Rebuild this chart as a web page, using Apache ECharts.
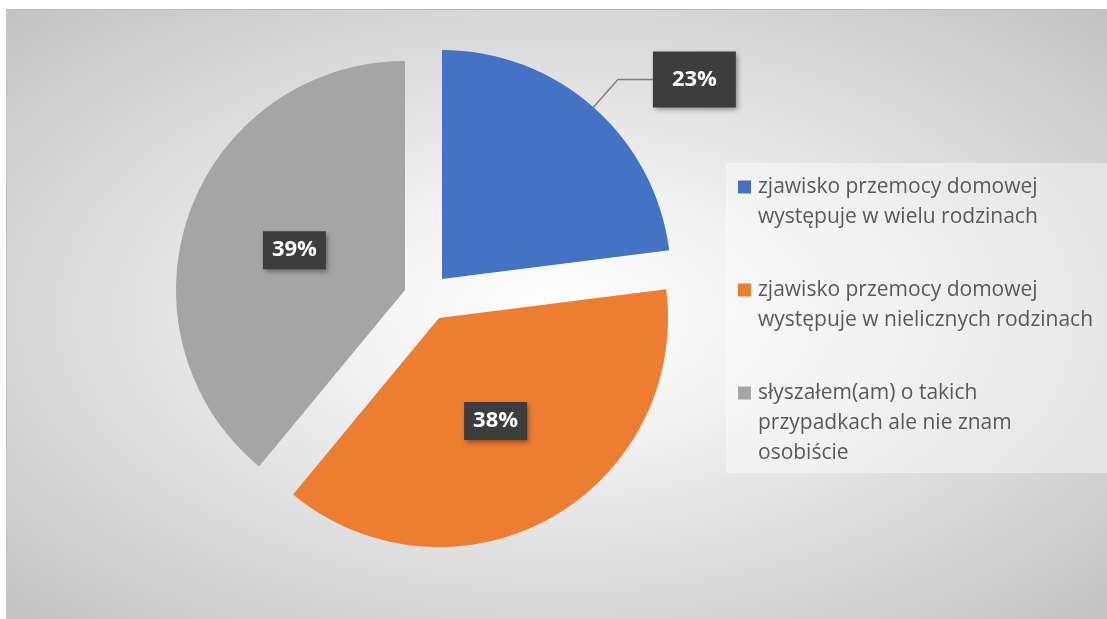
<!DOCTYPE html>
<html>
<head>
<meta charset="utf-8">
<script src="https://cdn.jsdelivr.net/npm/echarts@6/dist/echarts.min.js"></script>
<style>
  html, body { margin: 0; padding: 0; background: #ffffff; width: 1107px; height: 619px; overflow: hidden; }
  #frame { position: absolute; left: 6px; top: 9px; width: 1101px; height: 610px; box-sizing: border-box;
    border-top: 1px solid #b8b8b8; border-left: 1px solid #c2c2c2;
    background: radial-gradient(ellipse farthest-corner at 50% 50%, #ffffff 0%, #f4f4f4 25%, #c3c3c3 100%); }
  #chart { position: absolute; left: 0; top: 0; width: 1107px; height: 619px; }
</style>
</head>
<body>
<div id="frame"></div>
<div id="chart"></div>
<script>
// ---- data ----
const categories = [
  'zjawisko przemocy domowej występuje w wielu rodzinach',
  'zjawisko przemocy domowej występuje w nielicznych rodzinach',
  'słyszałem(am) o takich przypadkach ale nie znam osobiście'
];
const values = [23, 38, 39];
const legendLines = [
  ['zjawisko przemocy domowej', 'występuje w wielu rodzinach'],
  ['zjawisko przemocy domowej', 'występuje w nielicznych rodzinach'],
  ['słyszałem(am) o takich', 'przypadkach ale nie znam', 'osobiście']
];
const colors = ['#4472C4', '#ED7D31', '#A5A5A5'];

// ---- layout (exploded slice apex positions) ----
const sliceCenters = [[442, 279], [439, 318], [405, 290]];
const pieRadius = 229;
const FONT = '"Open Sans", Lato, sans-serif';

const chart = echarts.init(document.getElementById('chart'), null, { renderer: 'canvas' });

const total = values.reduce((a, b) => a + b, 0);
const baseLabel = {
  color: '#ffffff', fontWeight: 'bold', fontSize: 22, fontFamily: FONT,
  backgroundColor: '#3d3d3d', padding: [8, 9],
  shadowColor: 'rgba(0,0,0,0.4)', shadowBlur: 5, shadowOffsetX: 2, shadowOffsetY: 3,
  formatter: p => p.value + '%'
};
const labelCfgs = [
  Object.assign({}, baseLabel, { position: 'outside', distanceToLabelLine: 0, padding: [17, 19] }),
  Object.assign({}, baseLabel, { position: 'inside' }),
  Object.assign({}, baseLabel, { position: 'inside' })
];
const labelLineCfgs = [
  { show: true, length: 37, length2: 35, lineStyle: { color: '#808080', width: 1.5 } },
  { show: false }, { show: false }
];

let cum = 0;
const series = values.map((v, i) => {
  const start = 90 - 360 * cum / total;
  cum += v;
  return {
    type: 'pie',
    center: sliceCenters[i],
    radius: pieRadius,
    startAngle: start,
    clockwise: true,
    silent: true,
    animation: false,
    avoidLabelOverlap: false,
    z: i === 0 ? 3 : 2,
    data: [
      { name: categories[i], value: v, itemStyle: { color: colors[i] },
        label: labelCfgs[i], labelLine: labelLineCfgs[i] },
      { name: '__rest' + i, value: total - v, itemStyle: { color: 'rgba(0,0,0,0)' },
        label: { show: false }, labelLine: { show: false } }
    ]
  };
});

const rich = { g: { width: 7 }, ind: { width: 20 } };
colors.forEach((c, i) => {
  rich['sq' + i] = { width: 13, height: 13, backgroundColor: c, verticalAlign: 'middle' };
});

chart.setOption({
  animation: false,
  legend: {
    data: categories,
    orient: 'vertical',
    left: 726, top: 163,
    padding: [9, 14, 5, 7],
    itemGap: 43,
    itemWidth: 0, itemHeight: 30,
    itemStyle: { opacity: 0 },
    backgroundColor: 'rgba(255,255,255,0.42)',
    selectedMode: false,
    textStyle: { fontSize: 21, color: '#595959', fontFamily: FONT, lineHeight: 30, rich: rich },
    formatter: name => {
      const i = categories.indexOf(name);
      return legendLines[i].map((l, k) => (k === 0 ? '{sq' + i + '|}{g|}' : '{ind|}') + l).join('\n');
    }
  },
  series: series
});
</script>
</body>
</html>
